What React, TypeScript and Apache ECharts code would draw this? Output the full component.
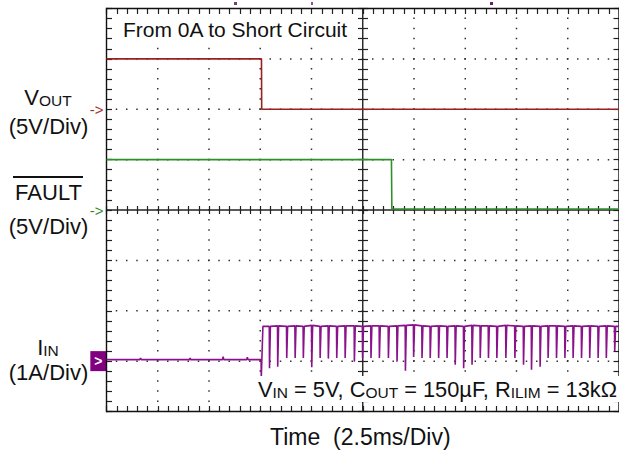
import React, { useEffect, useRef } from "react";
import * as echarts from "echarts";

// ---- scope settings ----
const TIME_MAX_MS = 25; // 10 div x 2.5 ms
const TIME_PER_DIV = 2.5;
const DIVS_X = 10;
const DIVS_Y = 8;
const VOUT_REF_DIV = 6;
const FAULT_REF_DIV = 4;
const IIN_REF_DIV = 1;
const VOUT_V_PER_DIV = 5;
const FAULT_V_PER_DIV = 5;
const IIN_A_PER_DIV = 1;

// ---- VOUT (V) ----
const voutTimes = [0, 7.56, 7.57, 25];
const voutVolts = [5, 5, 0, 0];

// ---- FAULT (V) ----
const faultTimes = [0, 13.9, 13.92, 25];
const faultVolts = [5, 5, 0.1, 0.1];

// ---- IIN (A) before the short ----
const iinPreTimes = [0, 1.62, 1.66, 1.7, 4.05, 4.08, 4.11, 5.66, 5.69, 5.72, 6.84, 6.87, 6.9, 7.54];
const iinPreAmps = [0.03, 0.03, 0.06, 0.03, 0.03, 0.06, 0.03, 0.03, 0.09, 0.03, 0.03, 0.08, 0.03, 0.03];
// short applied
const iinStepTimes = [7.55, 7.63];
const iinStepAmps = [-0.33, 0.69];
// current-limit pulses after the short
const iinDipTimes = [
  7.97, 8.37, 8.81, 9.22, 9.62, 10.03, 10.44, 10.84, 11.25, 11.66, 12.11, 12.51, 12.92,
  13.33, 13.77, 14.19, 14.6, 15.0, 15.41, 15.81, 16.22, 16.63, 17.03, 17.44, 17.85, 18.25, 18.65, 19.06,
  19.5, 19.94, 20.36, 20.75, 21.17, 21.56, 21.97, 22.38, 22.78, 23.19, 23.59, 24.0, 24.4, 24.81,
];
const iinDipAmps = [
  -0.14, -0.11, 0.06, 0.06, 0.06, -0.12, 0.06, 0.05, 0.06, 0.06, -0.01, 0.06, 0.06,
  0.06, 0.06, -0.01, -0.19, 0.08, 0.06, 0.06, 0.06, 0.06, -0.07, -0.14, -0.07, 0.06, 0.06, 0.06,
  0.06, 0.06, -0.07, -0.17, -0.11, 0.06, 0.06, 0.06, 0.06, 0.06, 0.06, 0.06, 0.06, 0.2,
];
const iinTopAmps = [
  0.69, 0.7, 0.69, 0.7, 0.69, 0.71, 0.69, 0.7, 0.69, 0.7, 0.7, 0.69, 0.7,
  0.7, 0.69, 0.7, 0.71, 0.72, 0.7, 0.69, 0.7, 0.69, 0.7, 0.69, 0.71, 0.7, 0.7, 0.69,
  0.71, 0.7, 0.69, 0.7, 0.69, 0.7, 0.7, 0.69, 0.7, 0.69, 0.7, 0.69, 0.7, 0.69,
];

const FONT = '"Liberation Sans", Arial, Helvetica, sans-serif';
const GRID = { left: 106.5, top: 8.5, width: 513, height: 403 };

function buildOption() {
  const voutData = voutTimes.map((t, i) => [t, VOUT_REF_DIV + voutVolts[i] / VOUT_V_PER_DIV]);
  const faultData = faultTimes.map((t, i) => [t, FAULT_REF_DIV + faultVolts[i] / FAULT_V_PER_DIV]);
  const iinData: number[][] = [];
  iinPreTimes.forEach((t, i) => iinData.push([t, IIN_REF_DIV + iinPreAmps[i] / IIN_A_PER_DIV]));
  iinStepTimes.forEach((t, i) => iinData.push([t, IIN_REF_DIV + iinStepAmps[i] / IIN_A_PER_DIV]));
  iinDipTimes.forEach((t, i) => {
    const top = IIN_REF_DIV + iinTopAmps[i] / IIN_A_PER_DIV;
    const dip = IIN_REF_DIV + iinDipAmps[i] / IIN_A_PER_DIV;
    iinData.push([t - 0.03, top]);
    iinData.push([t - 0.018, dip]);
    iinData.push([t + 0.012, dip]);
    iinData.push([t + 0.025, top]);
  });
  iinData.push([TIME_MAX_MS, IIN_REF_DIV + iinTopAmps[iinTopAmps.length - 1] / IIN_A_PER_DIV]);

  const graticule = (params: any, api: any) => {
    const pa = api.coord([0, 0]);
    const pb = api.coord([TIME_MAX_MS, DIVS_Y]);
    const x0 = pa[0], y1 = pa[1], x1 = pb[0], y0 = pb[1];
    const dx = (x1 - x0) / DIVS_X;
    const dy = (y1 - y0) / DIVS_Y;
    const ch: any[] = [];
    const ln = (a: number, b: number, c: number, d: number, stroke: string, w: number, dash?: number[]) =>
      ch.push({
        type: "line",
        shape: { x1: a, y1: b, x2: c, y2: d },
        style: dash ? { stroke, lineWidth: w, lineDash: dash, lineDashOffset: 0.75 } : { stroke, lineWidth: w },
      });
    for (let i = 1; i < DIVS_X; i++) {
      if (i === DIVS_X / 2) continue;
      const x = x0 + i * dx;
      ln(x, y0, x, y1, "#333", 1.5, [1.5, dy / 5 - 1.5]);
    }
    for (let j = 1; j < DIVS_Y; j++) {
      if (j === DIVS_Y / 2) continue;
      const y = y0 + j * dy;
      ln(x0, y, x1, y, "#333", 1.5, [1.5, dx / 5 - 1.5]);
    }
    const xc = x0 + (DIVS_X / 2) * dx;
    const yc = y0 + (DIVS_Y / 2) * dy;
    ln(xc, y0, xc, y1, "#222", 1.4);
    ln(x0, yc, x1, yc, "#222", 1.4);
    ln(x0, y0, x1, y0, "#111", 1.4);
    ln(x0, y1, x1, y1, "#111", 1.4);
    ln(x0, y0 - 0.7, x0, y1 + 0.7, "#111", 1.4);
    ln(x1, y0 - 0.7, x1, y1 + 0.7, "#111", 1.4);
    return { type: "group", children: ch };
  };

  const tickLine = { color: "#222", width: 1.2 };
  const xTickAxis = (position: string, offset: number, inside: boolean, len: number) => ({
    type: "value",
    gridIndex: 0,
    position,
    offset,
    min: 0,
    max: TIME_MAX_MS,
    interval: TIME_PER_DIV,
    axisLine: { show: false, onZero: false },
    axisLabel: { show: false },
    splitLine: { show: false },
    axisTick: { show: true, inside, length: len, lineStyle: tickLine },
    minorTick: { show: true, splitNumber: 5, length: len, lineStyle: tickLine },
  });
  const yTickAxis = (position: string, offset: number, inside: boolean, len: number) => ({
    type: "value",
    gridIndex: 0,
    position,
    offset,
    min: 0,
    max: DIVS_Y,
    interval: 1,
    axisLine: { show: false, onZero: false },
    axisLabel: { show: false },
    splitLine: { show: false },
    axisTick: { show: true, inside, length: len, lineStyle: tickLine },
    minorTick: { show: true, splitNumber: 5, length: len, lineStyle: tickLine },
  });

  const sub = { fontSize: 15.5, fontFamily: FONT, fill: "#111", verticalAlign: "bottom" };
  const main = { fontSize: 22, fontFamily: FONT, fill: "#111", verticalAlign: "bottom" };
  const subB = { fontSize: 15.5, fontFamily: FONT, fill: "#111", verticalAlign: "bottom" };
  const mainB = { fontSize: 21.8, fontFamily: FONT, fill: "#111", verticalAlign: "bottom" };
  const labelStyle = (text: string) => ({
    text,
    fontSize: 22,
    fontFamily: FONT,
    fill: "#111",
    align: "center",
    verticalAlign: "middle",
  });

  return {
    animation: false,
    grid: { ...GRID, containLabel: false },
    xAxis: [
      xTickAxis("bottom", 0, true, 5.5),
      xTickAxis("top", 0, true, 5.5),
      xTickAxis("bottom", -GRID.height / 2, true, 4),
      xTickAxis("bottom", -GRID.height / 2, false, 4),
    ],
    yAxis: [
      {
        ...yTickAxis("left", 0, true, 5.5),
        axisLabel: {
          show: true,
          margin: 0,
          formatter: (v: number) =>
            v === VOUT_REF_DIV ? "{r|->}" : v === FAULT_REF_DIV ? "{g|->}" : v === IIN_REF_DIV ? "{p|>}" : "",
          rich: {
            r: { color: "#a52a2a", fontSize: 15, fontFamily: FONT, padding: [0, 3, 0, 0] },
            g: { color: "#2e8b2e", fontSize: 15, fontFamily: FONT, padding: [0, 3, 0, 0] },
            p: {
              color: "#fff",
              backgroundColor: "#800080",
              fontSize: 14,
              fontWeight: "bold",
              fontFamily: FONT,
              lineHeight: 12,
              padding: [3, 4, 3, 4],
            },
          },
        },
      },
      yTickAxis("right", 0, true, 5.5),
      yTickAxis("left", -GRID.width / 2, true, 5),
      yTickAxis("left", -GRID.width / 2, false, 5),
    ],
    graphic: [
      {
        type: "text",
        x: 118,
        y: 29,
        z: 50,
        style: {
          text: "From 0A to Short Circuit",
          fontSize: 21,
          fontFamily: FONT,
          fill: "#111",
          align: "left",
          verticalAlign: "middle",
          backgroundColor: "#fff",
          padding: [4, 5, 4, 5],
        },
      },
      {
        type: "text",
        x: 48,
        y: 97,
        z: 50,
        style: { text: "{a|V}{b|OUT}", rich: { a: main, b: sub }, align: "center", verticalAlign: "middle" },
      },
      { type: "text", x: 48.5, y: 126, z: 50, style: labelStyle("(5V/Div)") },
      { type: "text", x: 48.5, y: 192, z: 50, style: labelStyle("FAULT") },
      {
        type: "line",
        z: 50,
        shape: { x1: 13, y1: 177, x2: 83, y2: 177 },
        style: { stroke: "#111", lineWidth: 2 },
      },
      { type: "text", x: 48.5, y: 226, z: 50, style: labelStyle("(5V/Div)") },
      {
        type: "text",
        x: 48,
        y: 347,
        z: 50,
        style: { text: "{a|I}{b|IN}", rich: { a: main, b: sub }, align: "center", verticalAlign: "middle" },
      },
      { type: "text", x: 48.5, y: 372.5, z: 50, style: labelStyle("(1A/Div)") },
      {
        type: "text",
        x: 254,
        y: 389,
        z: 50,
        style: {
          text: "{a|V}{b|IN}{a| = 5V, C}{b|OUT}{a| = 150µF, R}{b|ILIM}{a| = 13kΩ}",
          rich: { a: mainB, b: subB },
          align: "left",
          verticalAlign: "middle",
          backgroundColor: "#fff",
          padding: [2, 4, 2, 4],
        },
      },
      {
        type: "text",
        x: 270,
        y: 437,
        z: 50,
        style: {
          text: "Time  (2.5ms/Div)",
          fontSize: 23,
          fontFamily: FONT,
          fill: "#111",
          align: "left",
          verticalAlign: "middle",
        },
      },
      { type: "rect", z: 50, shape: { x: 234, y: 2, width: 3, height: 3 }, style: { fill: "#7a3a7a" } },
      { type: "rect", z: 50, shape: { x: 311, y: 2, width: 2, height: 3 }, style: { fill: "#9a4a9a" } },
      { type: "rect", z: 50, shape: { x: 490, y: 2, width: 3, height: 3 }, style: { fill: "#6a1a6a" } },
    ],
    series: [
      {
        type: "custom",
        name: "graticule",
        silent: true,
        clip: false,
        z: 1,
        data: [[0, 0]],
        renderItem: graticule,
      },
      {
        type: "line",
        name: "VOUT",
        data: voutData,
        showSymbol: false,
        symbol: "none",
        z: 5,
        lineStyle: { color: "#9c2020", width: 1.6 },
      },
      {
        type: "line",
        name: "FAULT",
        data: faultData,
        showSymbol: false,
        symbol: "none",
        z: 5,
        lineStyle: { color: "#2f8f2f", width: 1.6 },
      },
      {
        type: "line",
        name: "IIN",
        data: iinData,
        showSymbol: false,
        symbol: "none",
        z: 5,
        lineStyle: { color: "#8a128a", width: 1.6 },
      },
    ],
  };
}

export default function App() {
  const ref = useRef<HTMLDivElement>(null);
  useEffect(() => {
    if (!ref.current) return;
    const chart = echarts.init(ref.current, undefined, { renderer: "svg" });
    chart.setOption(buildOption() as any);
    return () => chart.dispose();
  }, []);
  return (
    <div
      ref={ref}
      style={{ position: "fixed", left: 0, top: 0, width: 619, height: 456, background: "#fff" }}
    />
  );
}
